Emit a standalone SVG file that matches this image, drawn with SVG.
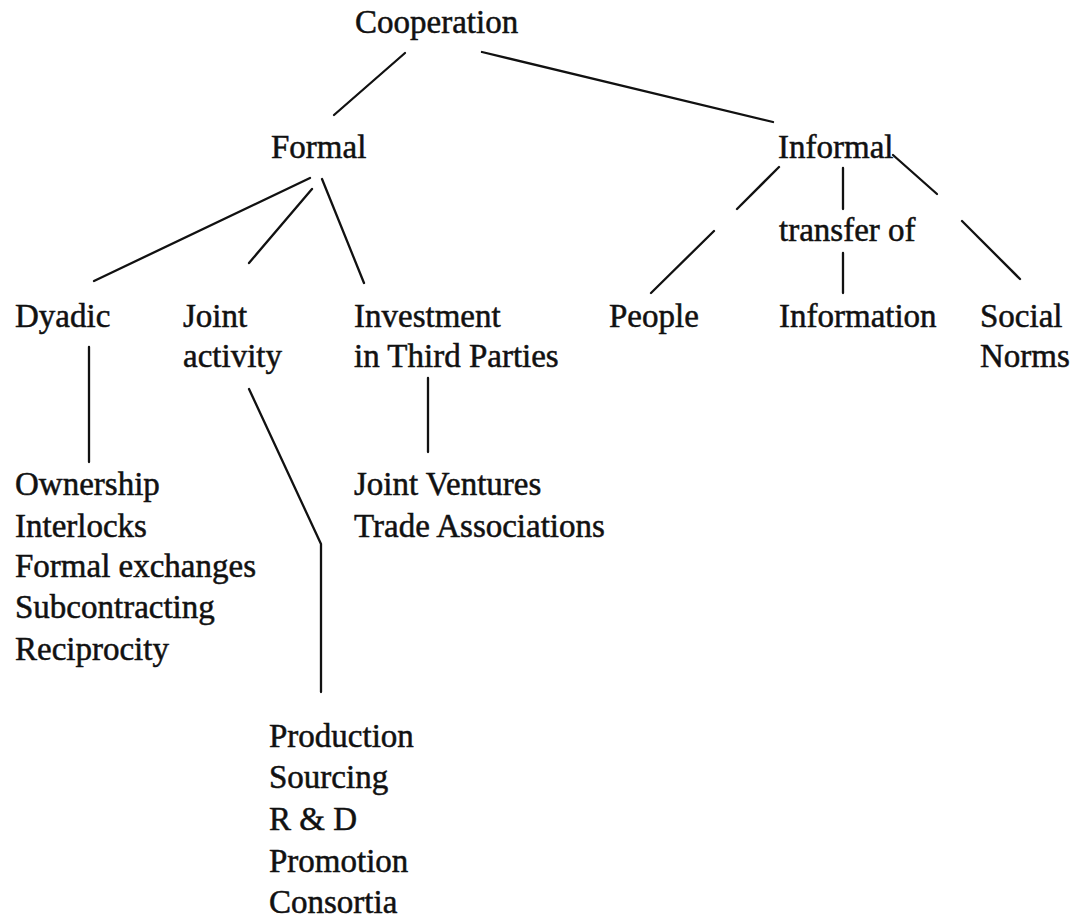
<svg xmlns="http://www.w3.org/2000/svg" width="1077" height="919" viewBox="0 0 1077 919">
  <style>
    .lbl { font-family: "Liberation Serif", "Times New Roman", serif; font-size: 33px; fill: #111; stroke: #111; stroke-width: 0.5; }
    .edge { stroke: #111; stroke-width: 2.3; fill: none; stroke-linecap: round; stroke-linejoin: round; }
  </style>
  <rect width="1077" height="919" fill="#fff"/>

  <!-- connectors -->
  <g id="connectors" class="edge">
    <line x1="405" y1="53" x2="334" y2="115"/>
    <line x1="482" y1="52" x2="773" y2="122"/>
    <line x1="310" y1="178" x2="94" y2="281"/>
    <line x1="312" y1="189" x2="249" y2="263"/>
    <line x1="322" y1="179" x2="364" y2="283"/>
    <line x1="89" y1="347" x2="89" y2="462"/>
    <polyline points="249,389 321,544 321,692"/>
    <line x1="428" y1="378" x2="428" y2="452"/>
    <line x1="779" y1="167" x2="737" y2="209"/>
    <line x1="714" y1="231" x2="651" y2="293"/>
    <line x1="843" y1="168" x2="843" y2="209"/>
    <line x1="843" y1="253" x2="843" y2="293"/>
    <line x1="893" y1="155" x2="937" y2="194"/>
    <line x1="962" y1="221" x2="1020" y2="279"/>
  </g>

  <!-- nodes -->
  <g id="cooperation"><text class="lbl" x="355" y="33">Cooperation</text></g>
  <g id="formal"><text class="lbl" x="271" y="158">Formal</text></g>
  <g id="informal"><text class="lbl" x="778" y="158">Informal</text></g>
  <g id="transfer-of"><text class="lbl" x="779" y="241">transfer of</text></g>
  <g id="dyadic"><text class="lbl" x="15" y="327">Dyadic</text></g>
  <g id="joint-activity">
    <text class="lbl" x="183" y="327">Joint</text>
    <text class="lbl" x="183" y="367">activity</text>
  </g>
  <g id="investment">
    <text class="lbl" x="354" y="327">Investment</text>
    <text class="lbl" x="354" y="367">in Third Parties</text>
  </g>
  <g id="people"><text class="lbl" x="609" y="327">People</text></g>
  <g id="information"><text class="lbl" x="779" y="327">Information</text></g>
  <g id="social-norms">
    <text class="lbl" x="980" y="327">Social</text>
    <text class="lbl" x="980" y="367">Norms</text>
  </g>
  <g id="dyadic-forms">
    <text class="lbl" x="15" y="495">Ownership</text>
    <text class="lbl" x="15" y="537">Interlocks</text>
    <text class="lbl" x="15" y="577">Formal exchanges</text>
    <text class="lbl" x="15" y="618">Subcontracting</text>
    <text class="lbl" x="15" y="660">Reciprocity</text>
  </g>
  <g id="third-party-forms">
    <text class="lbl" x="354" y="495">Joint Ventures</text>
    <text class="lbl" x="354" y="537">Trade Associations</text>
  </g>
  <g id="joint-activity-forms">
    <text class="lbl" x="269" y="747">Production</text>
    <text class="lbl" x="269" y="788">Sourcing</text>
    <text class="lbl" x="269" y="830">R &amp; D</text>
    <text class="lbl" x="269" y="872">Promotion</text>
    <text class="lbl" x="269" y="913">Consortia</text>
  </g>
</svg>
